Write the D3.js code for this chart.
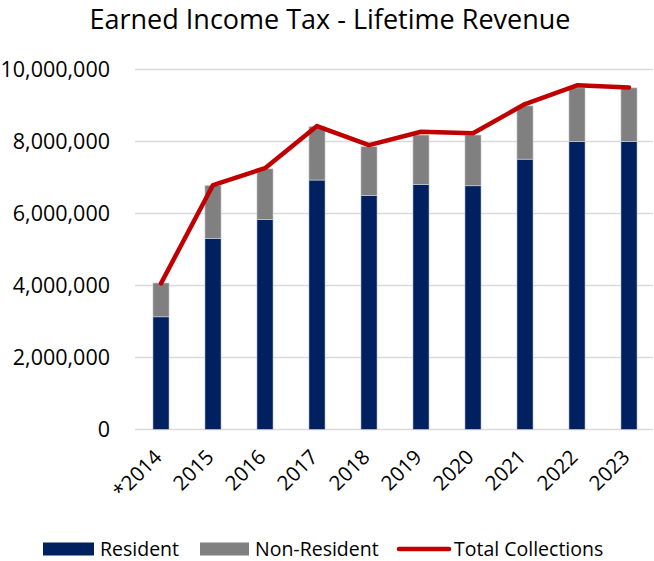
<!DOCTYPE html>
<html>
<head>
<meta charset="utf-8">
<script src="https://cdn.jsdelivr.net/npm/d3@7"></script>
<style>
  html, body { margin: 0; padding: 0; background: #fff; }
  svg { display: block; font-family: "Open Sans", Carlito, Calibri, sans-serif; }
</style>
</head>
<body>
<svg id="chart" width="654" height="561"></svg>
<script>
// Earned income tax collections by year
const years = ['*2014', '2015', '2016', '2017', '2018', '2019', '2020', '2021', '2022', '2023'];
const resident = [3130000, 5300000, 5830000, 6930000, 6500000, 6810000, 6770000, 7510000, 8000000, 8000000];
const nonResident = [940000, 1480000, 1410000, 1490000, 1360000, 1370000, 1410000, 1480000, 1490000, 1490000];
const totalCollections = [4060000, 6790000, 7260000, 8430000, 7900000, 8270000, 8230000, 9040000, 9560000, 9500000];
const yTicks = [0, 2000000, 4000000, 6000000, 8000000, 10000000];

const colors = { resident: '#002060', nonResident: '#808080', total: '#C00000', grid: '#D9D9D9' };
const font = '"Open Sans", Carlito, Calibri, sans-serif';

const svg = d3.select('#chart');
const plot = { left: 135, right: 655, top: 69.5, bottom: 429.5 };

const x = d3.scaleBand().domain(years).range([plot.left, plot.right])
  .paddingInner(0.69).paddingOuter(0.345);
const y = d3.scaleLinear().domain([0, 10000000]).range([plot.bottom, plot.top]);

// Title
svg.append('text')
  .attr('x', 330).attr('y', 29)
  .attr('text-anchor', 'middle')
  .attr('font-size', 27)
  .attr('fill', '#000')
  .text('Earned Income Tax - Lifetime Revenue');

// Gridlines
svg.append('g').selectAll('line').data(yTicks).join('line')
  .attr('x1', plot.left).attr('x2', plot.right - 2)
  .attr('y1', d => y(d)).attr('y2', d => y(d))
  .attr('stroke', colors.grid).attr('stroke-width', 1.3);

// Y axis labels
const yAxis = d3.axisLeft(y).tickValues(yTicks).tickSize(0).tickPadding(0)
  .tickFormat(d3.format(','));
svg.append('g').attr('transform', `translate(110,0)`).call(yAxis)
  .call(g => g.select('.domain').remove())
  .call(g => g.selectAll('text')
    .attr('font-size', 21.5).attr('fill', '#000')
    .attr('font-family', font));

// Stacked bars
const stackData = years.map((yr, i) => ({ year: yr, resident: resident[i], nonResident: nonResident[i] }));
const series = d3.stack().keys(['resident', 'nonResident'])(stackData);
svg.append('g').selectAll('g').data(series).join('g')
  .attr('fill', s => colors[s.key])
  .selectAll('rect').data(s => s).join('rect')
  .attr('x', d => x(d.data.year))
  .attr('width', x.bandwidth())
  .attr('y', d => y(d[1]))
  .attr('height', d => y(d[0]) - y(d[1]))
  .attr('stroke', '#cfd4e0').attr('stroke-width', 0.6);

// Total collections line
const line = d3.line()
  .x((d, i) => x(years[i]) + x.bandwidth() / 2)
  .y(d => y(d));
svg.append('path').datum(totalCollections)
  .attr('d', line)
  .attr('fill', 'none')
  .attr('stroke', colors.total)
  .attr('stroke-width', 4.5)
  .attr('stroke-linejoin', 'round')
  .attr('stroke-linecap', 'round');

// X axis labels (rotated)
const xAxis = d3.axisBottom(x).tickSize(0).tickPadding(0);
svg.append('g').attr('transform', `translate(0,${plot.bottom})`).call(xAxis)
  .call(g => g.select('.domain').remove())
  .call(g => g.selectAll('text')
    .attr('font-size', 20.5).attr('fill', '#000')
    .attr('font-family', font)
    .attr('text-anchor', 'end')
    .attr('dy', null)
    .attr('transform', 'translate(2,29) rotate(-45)'));

// Legend
const legend = svg.append('g').attr('font-size', 19.5).attr('fill', '#000');
const swatchY = 549;
legend.append('rect').attr('x', 43).attr('y', swatchY - 6.5).attr('width', 51).attr('height', 13).attr('fill', colors.resident);
legend.append('text').attr('x', 100).attr('y', swatchY + 7).text('Resident');
legend.append('rect').attr('x', 200).attr('y', swatchY - 6.5).attr('width', 49).attr('height', 13).attr('fill', colors.nonResident);
legend.append('text').attr('x', 255).attr('y', swatchY + 7).text('Non-Resident');
legend.append('line').attr('x1', 399).attr('x2', 449).attr('y1', swatchY).attr('y2', swatchY)
  .attr('stroke', colors.total).attr('stroke-width', 4.5).attr('stroke-linecap', 'round');
legend.append('text').attr('x', 454).attr('y', swatchY + 7).text('Total Collections');
</script>
</body>
</html>
